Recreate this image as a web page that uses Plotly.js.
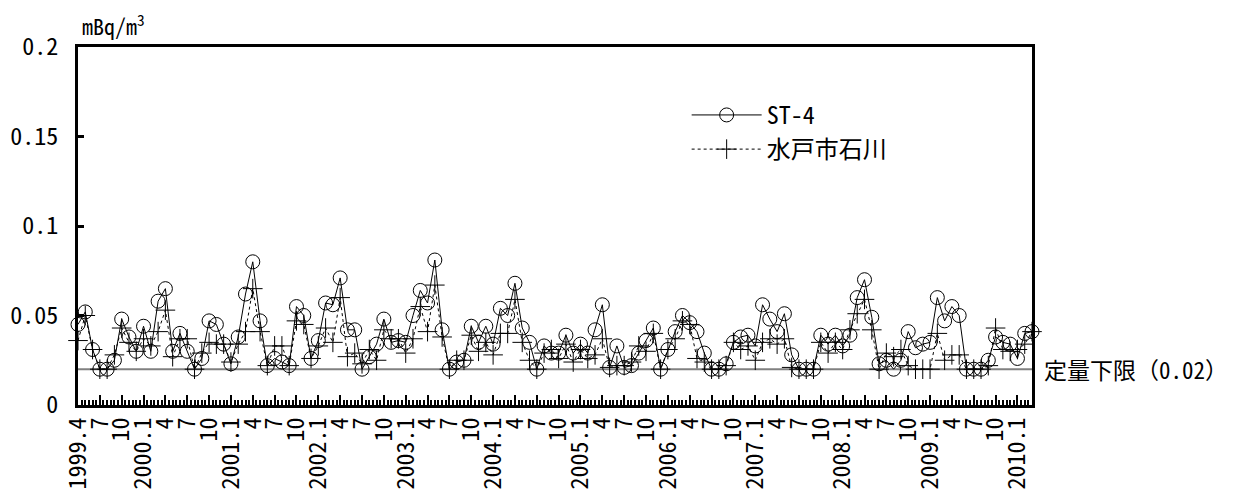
<!DOCTYPE html>
<html>
<head>
<meta charset="utf-8">
<script src="https://cdn.plot.ly/plotly-3.0.1.min.js"></script>
<style>
  html, body { margin: 0; padding: 0; background: #ffffff; }
  #chart { width: 1236px; height: 491px; }
</style>
</head>
<body>
<div id="chart"></div>
<script>
// Monthly airborne concentration, April 1999 to March 2010 (mBq/m3)
const seriesNames = ["ST-4", "水戸市石川"];

const st4 = [
  0.045, 0.052, 0.031, 0.020, 0.020, 0.025, 0.048, 0.038, 0.030, 0.044, 0.030, 0.058,
  0.065, 0.030, 0.040, 0.030, 0.020, 0.026, 0.047, 0.045, 0.034, 0.023, 0.038, 0.062,
  0.080, 0.047, 0.022, 0.026, 0.024, 0.022, 0.055, 0.050, 0.026, 0.036, 0.057, 0.056,
  0.071, 0.042, 0.042, 0.020, 0.027, 0.034, 0.048, 0.035, 0.036, 0.035, 0.050, 0.064,
  0.057, 0.081, 0.042, 0.020, 0.024, 0.025, 0.044, 0.035, 0.044, 0.034, 0.054, 0.050,
  0.068, 0.043, 0.035, 0.020, 0.033, 0.029, 0.029, 0.039, 0.029, 0.034, 0.029, 0.042,
  0.056, 0.021, 0.033, 0.021, 0.022, 0.029, 0.036, 0.043, 0.020, 0.031, 0.041, 0.050,
  0.046, 0.041, 0.029, 0.020, 0.020, 0.023, 0.035, 0.038, 0.039, 0.033, 0.056, 0.048,
  0.041, 0.051, 0.028, 0.020, 0.020, 0.020, 0.039, 0.034, 0.039, 0.033, 0.039, 0.060,
  0.070, 0.049, 0.023, 0.025, 0.020, 0.025, 0.041, 0.032, 0.034, 0.035, 0.060, 0.047,
  0.055, 0.050, 0.020, 0.020, 0.020, 0.025, 0.038, 0.035, 0.034, 0.026, 0.040, 0.041
];

const mito = [
  0.036, 0.050, 0.031, 0.020, 0.020, 0.028, 0.043, 0.035, 0.030, 0.037, 0.033, 0.041,
  0.053, 0.027, 0.037, 0.037, 0.020, 0.029, 0.035, 0.034, 0.034, 0.024, 0.034, 0.041,
  0.065, 0.041, 0.022, 0.033, 0.033, 0.022, 0.047, 0.045, 0.026, 0.033, 0.043, 0.035,
  0.060, 0.027, 0.029, 0.023, 0.031, 0.025, 0.042, 0.037, 0.037, 0.029, 0.037, 0.055,
  0.041, 0.067, 0.038, 0.020, 0.025, 0.025, 0.039, 0.030, 0.035, 0.028, 0.040, 0.040,
  0.059, 0.035, 0.025, 0.020, 0.029, 0.031, 0.026, 0.034, 0.024, 0.031, 0.026, 0.028,
  0.037, 0.021, 0.022, 0.022, 0.024, 0.033, 0.030, 0.040, 0.020, 0.031, 0.037, 0.047,
  0.045, 0.026, 0.024, 0.020, 0.020, 0.022, 0.035, 0.031, 0.033, 0.025, 0.035, 0.037,
  0.034, 0.037, 0.021, 0.020, 0.020, 0.020, 0.035, 0.029, 0.035, 0.031, 0.042, 0.051,
  0.059, 0.042, 0.020, 0.029, 0.027, 0.031, 0.022, 0.020, 0.020, 0.020, 0.040, 0.025,
  0.028, 0.028, 0.020, 0.020, 0.020, 0.022, 0.043, 0.031, 0.030, 0.031, 0.034, 0.041
];

// One label every three months, starting at 1999.4
const tickLabels = [
  "1999.4", "7", "10",
  "2000.1", "4", "7", "10",
  "2001.1", "4", "7", "10",
  "2002.1", "4", "7", "10",
  "2003.1", "4", "7", "10",
  "2004.1", "4", "7", "10",
  "2005.1", "4", "7", "10",
  "2006.1", "4", "7", "10",
  "2007.1", "4", "7", "10",
  "2008.1", "4", "7", "10",
  "2009.1", "4", "7", "10",
  "2010.1"
];
const labelStep = 3;

const yTickVals = [0, 0.05, 0.1, 0.15, 0.2];
const yTickText = ["0", "0.05", "0.1", "0.15", "0.2"];

const detectionLimit = 0.02;
const limitLabel = "定量下限（0.02）";
const unitLabel = "mBq/m<sup>3</sup>";

const FONT = '"Noto Sans Mono CJK JP", "Noto Sans CJK JP", "DejaVu Sans", sans-serif';

// x positions: month index from the first sample
const monthIndex = st4.map((_, i) => i);
const labelIndex = tickLabels.map((_, k) => k * labelStep);

const traces = [
  {
    x: monthIndex,
    y: st4,
    name: seriesNames[0],
    type: "scatter",
    mode: "lines+markers",
    cliponaxis: false,
    legendgroup: "a",
    line: { color: "#000000", width: 1 },
    marker: { symbol: "circle-open", size: 14, color: "#000000", line: { width: 1, color: "#000000" } }
  },
  {
    x: monthIndex,
    y: mito,
    name: seriesNames[1],
    type: "scatter",
    mode: "lines+markers",
    cliponaxis: false,
    legendgroup: "b",
    line: { color: "#000000", width: 1, dash: "dot" },
    marker: { symbol: "cross-thin-open", size: 14, color: "#000000", line: { width: 1, color: "#000000" } }
  }
];

const layout = {
  width: 1236,
  height: 491,
  margin: { l: 78, r: 204, t: 47, b: 86 },
  paper_bgcolor: "#ffffff",
  plot_bgcolor: "#ffffff",
  font: { family: FONT, size: 24, color: "#000000" },
  showlegend: true,
  legend: {
    x: 0.638, y: 0.872, xanchor: "left", yanchor: "top",
    bgcolor: "rgba(0,0,0,0)",
    font: { family: FONT, size: 24, color: "#000000" },
    traceorder: "grouped",
    tracegroupgap: 0,
    itemwidth: 70
  },
  xaxis: {
    range: [0, st4.length - 1],
    showgrid: false,
    zeroline: false,
    showline: true,
    linecolor: "#000000",
    linewidth: 3,
    mirror: true,
    tickmode: "array",
    tickvals: labelIndex,
    ticktext: tickLabels,
    ticks: "inside",
    ticklen: 10,
    tickwidth: 2,
    tickcolor: "#000000",
    tickangle: -90,
    tickfont: { family: FONT, size: 24, color: "#000000" },
    minor: { ticks: "inside", tick0: 0, dtick: 0.5, ticklen: 5, tickwidth: 2, tickcolor: "#000000", showgrid: false }
  },
  yaxis: {
    range: [0, 0.2],
    showgrid: false,
    zeroline: false,
    showline: true,
    linecolor: "#000000",
    linewidth: 3,
    mirror: true,
    tickmode: "array",
    tickvals: yTickVals,
    ticktext: yTickText,
    ticks: "inside",
    ticklen: 6,
    tickwidth: 3,
    tickcolor: "#000000",
    ticklabelstandoff: 12,
    tickfont: { family: FONT, size: 24, color: "#000000" }
  },
  shapes: [
    {
      type: "line",
      xref: "paper", x0: 0, x1: 1,
      yref: "y", y0: detectionLimit, y1: detectionLimit,
      line: { color: "#808080", width: 2 },
      layer: "below"
    }
  ],
  annotations: [
    {
      xref: "paper", x: 1, xanchor: "left", xshift: 10,
      yref: "y", y: detectionLimit, yanchor: "middle",
      text: limitLabel, showarrow: false,
      font: { family: FONT, size: 23, color: "#000000" }
    },
    {
      xref: "paper", x: 0, xanchor: "left", xshift: 2,
      yref: "paper", y: 1, yanchor: "bottom", yshift: 4,
      text: unitLabel, showarrow: false,
      font: { family: FONT, size: 22, color: "#000000" }
    }
  ]
};

Plotly.newPlot("chart", traces, layout, { displayModeBar: false, staticPlot: true });
</script>
</body>
</html>
